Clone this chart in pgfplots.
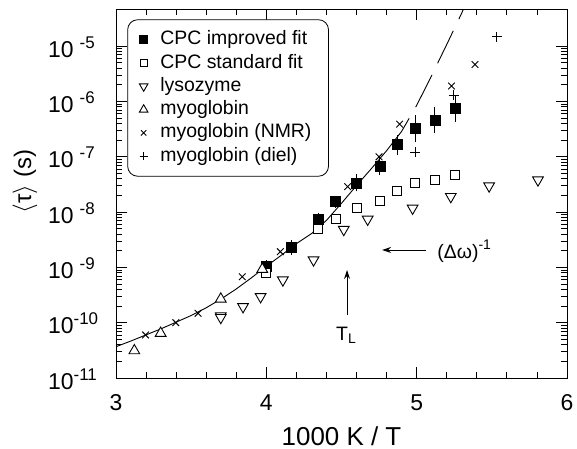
\documentclass[border=0pt]{standalone}
\usepackage{fontspec}
\setmainfont{Liberation Sans}
\usepackage{pgfplots}
\pgfplotsset{compat=1.18}
\usetikzlibrary{arrows.meta}

\newcommand{\sups}[1]{\raisebox{9bp}{\fontsize{17}{17}\selectfont #1}}

\begin{document}
\begin{tikzpicture}
\begin{axis}[
  name=main,
  scale only axis, width=451bp, height=369bp,
  xmin=3, xmax=6,
  ymode=log, ymin=1e-11, ymax=4.7e-5,
  xtick={3,4,5,6}, minor x tick num=4,
  ytick={1e-11,1e-10,1e-9,1e-8,1e-7,1e-6,1e-5},
  yticklabels={10\sups{-11},10\sups{-10},10\sups{\kern6bp-9},10\sups{\kern6bp-8},
               10\sups{\kern6bp-7},10\sups{\kern6bp-6},10\sups{\kern6bp-5}},
  tick align=inside, tick pos=both,
  major tick length=11bp, minor tick length=6bp,
  every tick/.style={black, line width=0.8bp},
  axis line style={line width=0.9bp},
  /pgf/number format/assume math mode=true,
  tick label style={font=\fontsize{23}{27}\selectfont, inner sep=0pt},
  xticklabel style={anchor=base, yshift=-32bp},
  yticklabel style={anchor=base west, xshift=-68bp, yshift=-11bp},
  every axis x label/.style={at={(axis description cs:0.5,0)}, anchor=base, yshift=-67bp},
  every axis y label/.style={at={(axis description cs:0,0.5)}, rotate=90, anchor=center, yshift=91bp, xshift=12bp},
  xlabel style={font=\fontsize{26}{30}\selectfont},
  ylabel style={font=\fontsize{24}{28}\selectfont},
  xlabel={1000 K / T},
  ylabel={$\langle$τ$\rangle$ (s)},
  legend image code/.code={%
    \path[draw=none, fill=none] (0bp,-4bp) (16bp,4bp);
    \draw[#1, every mark/.append style={scale=0.8}] plot coordinates {(8bp,0bp)};},
  legend style={at={(rel axis cs:0.025,0.972)}, anchor=north west,
    draw=black, line width=0.8bp, rounded corners=10bp,
    inner xsep=8bp, inner ysep=11bp, row sep=5.3bp, column sep=8.7bp,
    font=\fontsize{19.5}{23}\selectfont,
    nodes={inner sep=0pt, text height=14bp, text depth=4bp}},
  legend cell align=left,
]

% fit curve, solid then long dashes
\addplot[black, line width=0.9bp, forget plot] coordinates {
 (3.0,3.681e-11) (3.1,4.677e-11) (3.2,6.026e-11) (3.3,7.762e-11)
 (3.4,1.023e-10) (3.5,1.349e-10) (3.6,1.862e-10) (3.7,2.692e-10)
 (3.8,4.074e-10) (3.9,6.457e-10) (4.0,1.047e-9) (4.1,1.660e-9)
 (4.2,2.692e-9) (4.3,4.074e-9) (4.4,7.079e-9) (4.5,1.445e-8)
 (4.6,3.020e-8) (4.7,6.166e-8) (4.8,1.288e-7) (4.9,2.884e-7)
 (4.95,4.955e-7)
};
\addplot[black, line width=0.9bp, forget plot, dash pattern=on 36bp off 13bp, dash phase=36bp] coordinates {
 (4.95,4.955e-7) (5.0,8.511e-7) (5.1,2.951e-6) (5.2,1.072e-5)
 (5.3,3.981e-5) (5.32,5.370e-5)
};

% error bars of the improved fit
\addplot[black, line width=0.9bp, forget plot, unbounded coords=jump] coordinates {
 (4.0,8.41e-10) (4.0,1.334e-9) (4.0,nan)
 (4.166,1.698e-9) (4.166,3.09e-9) (4.166,nan)
 (4.345,6.03e-9) (4.345,9.55e-9) (4.345,nan)
 (4.46,1.202e-8) (4.46,1.995e-8) (4.46,nan)
 (4.60,2.399e-8) (4.60,4.786e-8) (4.60,nan)
 (4.755,4.732e-8) (4.755,9.886e-8) (4.755,nan)
 (4.872,1.096e-7) (4.872,2.512e-7) (4.872,nan)
 (4.99,1.884e-7) (4.99,5.689e-7) (4.99,nan)
 (5.12,2.661e-7) (5.12,8.035e-7) (5.12,nan)
 (5.256,4.335e-7) (5.256,1.309e-6)
};

\addplot[only marks, mark=square*, mark size=5bp, black] coordinates {
 (4.0,1.059e-9) (4.166,2.291e-9) (4.345,7.586e-9) (4.46,1.549e-8)
 (4.60,3.388e-8) (4.755,6.839e-8) (4.872,1.660e-7) (4.99,3.273e-7)
 (5.12,4.624e-7) (5.256,7.534e-7)
};
\addlegendentry{CPC improved fit}

\addplot[only marks, mark=square*, mark size=4.5bp, black, mark options={fill=white, line width=0.9bp}] coordinates {
 (4.0,8.017e-10) (4.345,4.898e-9) (4.46,7.413e-9) (4.602,1.175e-8)
 (4.755,1.622e-8) (4.869,2.399e-8) (4.99,3.319e-8) (5.119,3.802e-8)
 (5.256,4.688e-8)
};
\addlegendentry{CPC standard fit}

\addplot[only marks, mark=triangle*, mark size=6.2bp, black, mark options={fill=white, rotate=180, line width=0.9bp}] coordinates {
 (3.697,1.33e-10) (3.697,1.24e-10) (3.845,1.945e-10) (3.962,2.951e-10)
 (4.11,5.916e-10) (4.314,1.361e-9) (4.515,4.842e-9) (4.674,7.413e-9)
 (4.973,1.175e-8) (5.227,1.905e-8) (5.482,2.965e-8) (5.807,3.802e-8)
};
\addlegendentry{lysozyme}

\addplot[only marks, mark=triangle*, mark size=6.2bp, black, mark options={fill=white, line width=0.9bp}] coordinates {
 (3.122,3.119e-11) (3.297,6.457e-11) (3.697,2.685e-10) (3.973,9.247e-10)
};
\addlegendentry{myoglobin}

\addplot[only marks, mark=x, mark size=4.7bp, black, mark options={line width=0.9bp}] coordinates {
 (3.197,5.998e-11) (3.398,1.0e-10) (3.546,1.479e-10) (3.84,6.792e-10)
 (4.093,1.923e-9) (4.541,2.884e-8) (4.75,1.0e-7) (4.887,3.890e-7)
 (5.232,1.905e-6) (5.388,4.677e-6)
};
\addlegendentry{myoglobin (NMR)\hspace*{9bp}}

\addplot[only marks, mark=+, mark size=5bp, black, mark options={line width=0.9bp}] coordinates {
 (4.99,1.202e-7) (5.12,4.169e-7) (5.248,1.288e-6) (5.532,1.479e-5)
};
\addlegendentry{myoglobin (diel)}

% annotations
\draw[line width=0.9bp, -{Stealth[length=9bp,width=6bp]}] (axis cs:4.537,1.377e-10) -- (axis cs:4.537,8.974e-10);
\node[anchor=base, inner sep=0pt, font=\fontsize{19.5}{23}\selectfont] at (axis cs:4.53,4.73e-11)
  {T\raisebox{-3.3bp}{\fontsize{14}{14}\selectfont L}};
\draw[line width=0.9bp, -{Stealth[length=9bp,width=6bp]}] (axis cs:5.062,2.065e-9) -- (axis cs:4.77,2.065e-9);
\node[anchor=base west, inner sep=0pt, font=\fontsize{19.5}{23}\selectfont] at (axis cs:5.137,1.419e-9)
  {(Δω)\raisebox{9bp}{\fontsize{14}{14}\selectfont -1}};
\end{axis}
\pgfresetboundingbox
\path[use as bounding box] ([xshift=-116bp,yshift=-71bp]main.south west) rectangle ([xshift=10bp,yshift=9bp]main.north east);
\end{tikzpicture}
\end{document}
